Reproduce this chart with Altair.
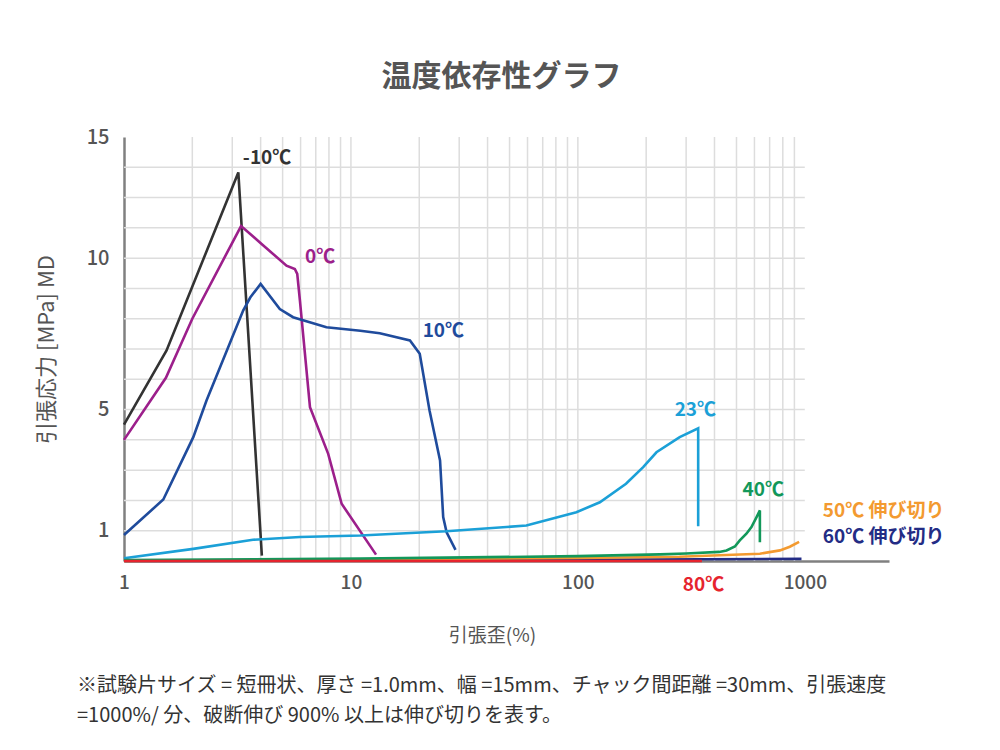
import altair as alt
import pandas as pd

FONT = "Noto Sans CJK JP"

# ---- series data (strain %, stress MPa) ----
m10_x = [1.0, 1.54, 3.19, 4.05]
m10_y = [4.5, 6.95, 12.83, 0.18]

c0_x = [1.0, 1.53, 2.0, 3.28, 4.04, 5.2, 5.66, 5.8, 5.96, 6.6, 7.94, 9.1, 12.9]
c0_y = [4.0, 6.05, 8.0, 11.06, 10.47, 9.75, 9.64, 9.48, 8.6, 5.08, 3.54, 1.89, 0.21]

c10_x = [1.0, 1.49, 2.02, 2.31, 3.35, 3.6, 4.0, 4.86, 5.56, 7.8, 11.0, 13.4, 18.2,
         20.1, 22.2, 24.7, 25.5, 26.4, 28.9]
c10_y = [0.86, 2.03, 4.09, 5.3, 8.27, 8.7, 9.15, 8.32, 8.05, 7.72, 7.6, 7.52, 7.28,
         6.84, 4.97, 3.32, 1.45, 0.95, 0.37]

c23_x = [1.0, 2.02, 3.7, 5.96, 11.0, 26.3, 59.3, 98.5, 125, 163, 194, 222, 281, 339, 339]
c23_y = [0.09, 0.4, 0.7, 0.79, 0.84, 0.98, 1.17, 1.61, 1.94, 2.55, 3.1, 3.59, 4.09, 4.38, 1.15]

c40_x = [1.0, 11.0, 100, 230, 300, 420, 452, 492, 517, 553, 582, 613, 634, 634]
c40_y = [0.03, 0.08, 0.16, 0.22, 0.25, 0.3, 0.35, 0.48, 0.68, 0.9, 1.12, 1.45, 1.67, 0.62]

c50_x = [1.0, 11.0, 100, 280, 634, 777, 859, 944]
c50_y = [0.0, 0.05, 0.1, 0.14, 0.24, 0.35, 0.47, 0.63]

c60_x = [1.0, 100, 967]
c60_y = [0.0, 0.04, 0.07]

c80_x = [1.0, 352]
c80_y = [0.0, 0.0]

series_names = ["-10℃", "0℃", "10℃", "23℃", "60℃", "50℃", "40℃", "80℃"]
series_colors = ["#333333", "#9c1f8b", "#1f4b9c", "#1ba0d7", "#232c85", "#f39a30", "#12985a", "#e6242e"]
series_xy = {
    "-10℃": (m10_x, m10_y), "0℃": (c0_x, c0_y), "10℃": (c10_x, c10_y),
    "23℃": (c23_x, c23_y), "40℃": (c40_x, c40_y), "50℃": (c50_x, c50_y),
    "60℃": (c60_x, c60_y), "80℃": (c80_x, c80_y),
}

# ---- labels ----
label_texts = ["-10℃", "0℃", "10℃", "23℃", "40℃", "50℃ 伸び切り", "60℃ 伸び切り", "80℃"]
label_series = ["-10℃", "0℃", "10℃", "23℃", "40℃", "50℃", "60℃", "80℃"]
label_x = [3.34, 6.27, 20.7, 267, 532, 1200, 1200, 290]
label_y = [13.32, 10.05, 7.58, 4.97, 2.36, 1.64, 0.79, -0.78]

# ---- grid / ticks ----
vgrid = [2, 3, 4, 5, 6, 7, 8, 9, 10, 20, 30, 40, 50, 60, 70, 80, 90, 100,
         200, 300, 400, 500, 600, 700, 800, 900]
hgrid = list(range(1, 14))
x_ticks = [1, 10, 100, 1000]
y_ticks = [1, 5, 10, 14]
x_domain = [1, 2350]
y_domain = [0, 14]
grid_x_end = 1000

title_text = "温度依存性グラフ"
x_title = "引張歪(%)"
y_title = "引張応力 [MPa] MD"
note1 = "※試験片サイズ = 短冊状、厚さ =1.0mm、幅 =15mm、チャック間距離 =30mm、引張速度"
note2 = "=1000%/ 分、破断伸び 900% 以上は伸び切りを表す。"

rows = []
for s in series_names:
    xs_, ys_ = series_xy[s]
    for i, (a, b) in enumerate(zip(xs_, ys_)):
        rows.append({"series": s, "x": a, "y": b, "idx": i})
lines_df = pd.DataFrame(rows)
labels_df = pd.DataFrame({"text": label_texts, "series": label_series, "x": label_x, "y": label_y})
vgrid_df = pd.DataFrame({"x": vgrid, "y0": y_domain[0], "y1": y_domain[1]})
hgrid_df = pd.DataFrame({"y": hgrid, "x0": x_domain[0], "x1": grid_x_end})

xs = alt.Scale(type="log", domain=x_domain)
ys = alt.Scale(domain=y_domain)
color_scale = alt.Scale(domain=series_names, range=series_colors)

x_axis = alt.Axis(
    values=x_ticks, format="d", title=x_title, labelFlush=False,
    titleX=368, titleY=74, titleBaseline="middle", titleAnchor="middle", labelPadding=12)
y_axis = alt.Axis(
    values=y_ticks, title=y_title, labelFlush=False,
    labelExpr="datum.value == 14 ? '15' : datum.label",
    labelPadding=15, titlePadding=28)

vg = alt.Chart(vgrid_df).mark_rule(color="#dddddd", strokeWidth=1.5).encode(
    x=alt.X("x:Q", scale=xs, axis=x_axis),
    y=alt.Y("y0:Q", scale=ys, axis=y_axis),
    y2="y1:Q",
)
hg = alt.Chart(hgrid_df).mark_rule(color="#dddddd", strokeWidth=1.5).encode(
    y=alt.Y("y:Q", scale=ys),
    x=alt.X("x0:Q", scale=xs),
    x2="x1:Q",
)

lines = alt.Chart(lines_df).mark_line(strokeWidth=2.6, clip=False).encode(
    x=alt.X("x:Q", scale=xs),
    y=alt.Y("y:Q", scale=ys),
    color=alt.Color("series:N", scale=color_scale, legend=None),
    detail="series:N",
    order="idx:Q",
)

labels = alt.Chart(labels_df).mark_text(
    align="left", baseline="middle", font=FONT, fontSize=19, fontWeight="bold"
).encode(
    x=alt.X("x:Q", scale=xs),
    y=alt.Y("y:Q", scale=ys),
    text="text:N",
    color=alt.Color("series:N", scale=color_scale, legend=None),
)

note_df = pd.DataFrame({"t": [note1]})
note_df2 = pd.DataFrame({"t": [note2]})
n1 = alt.Chart(note_df).mark_text(align="left", baseline="middle", font=FONT, fontSize=20,
                                  color="#333333").encode(
    x=alt.value(-47), y=alt.value(549), text="t:N")
n2 = alt.Chart(note_df2).mark_text(align="left", baseline="middle", font=FONT, fontSize=20,
                                   color="#333333").encode(
    x=alt.value(-47), y=alt.value(579), text="t:N")

chart = alt.layer(vg, hg, lines, labels, n1, n2).properties(
    width=765, height=424,
    autosize=alt.AutoSizeParams(type="none"),
    padding={"left": 116, "top": 129, "right": 103, "bottom": 181},
    title=alt.Title(title_text, font=FONT, fontSize=30, fontWeight="bold", color="#555555",
                    anchor="middle", offset=35, dx=-5),
).configure_view(stroke=None).configure_axis(
    grid=False, ticks=False, zindex=0,
    domainColor="#808080", domainWidth=2.5,
    labelFont=FONT, labelColor="#555555", labelFontWeight=500,
    titleFont=FONT, titleColor="#555555", titleFontWeight="normal",
).configure_axisX(titleFontSize=19, labelFontSize=19).configure_axisY(titleFontSize=22, labelFontSize=20)

chart.save("out.html", embed_options={"renderer": "svg", "actions": False})
